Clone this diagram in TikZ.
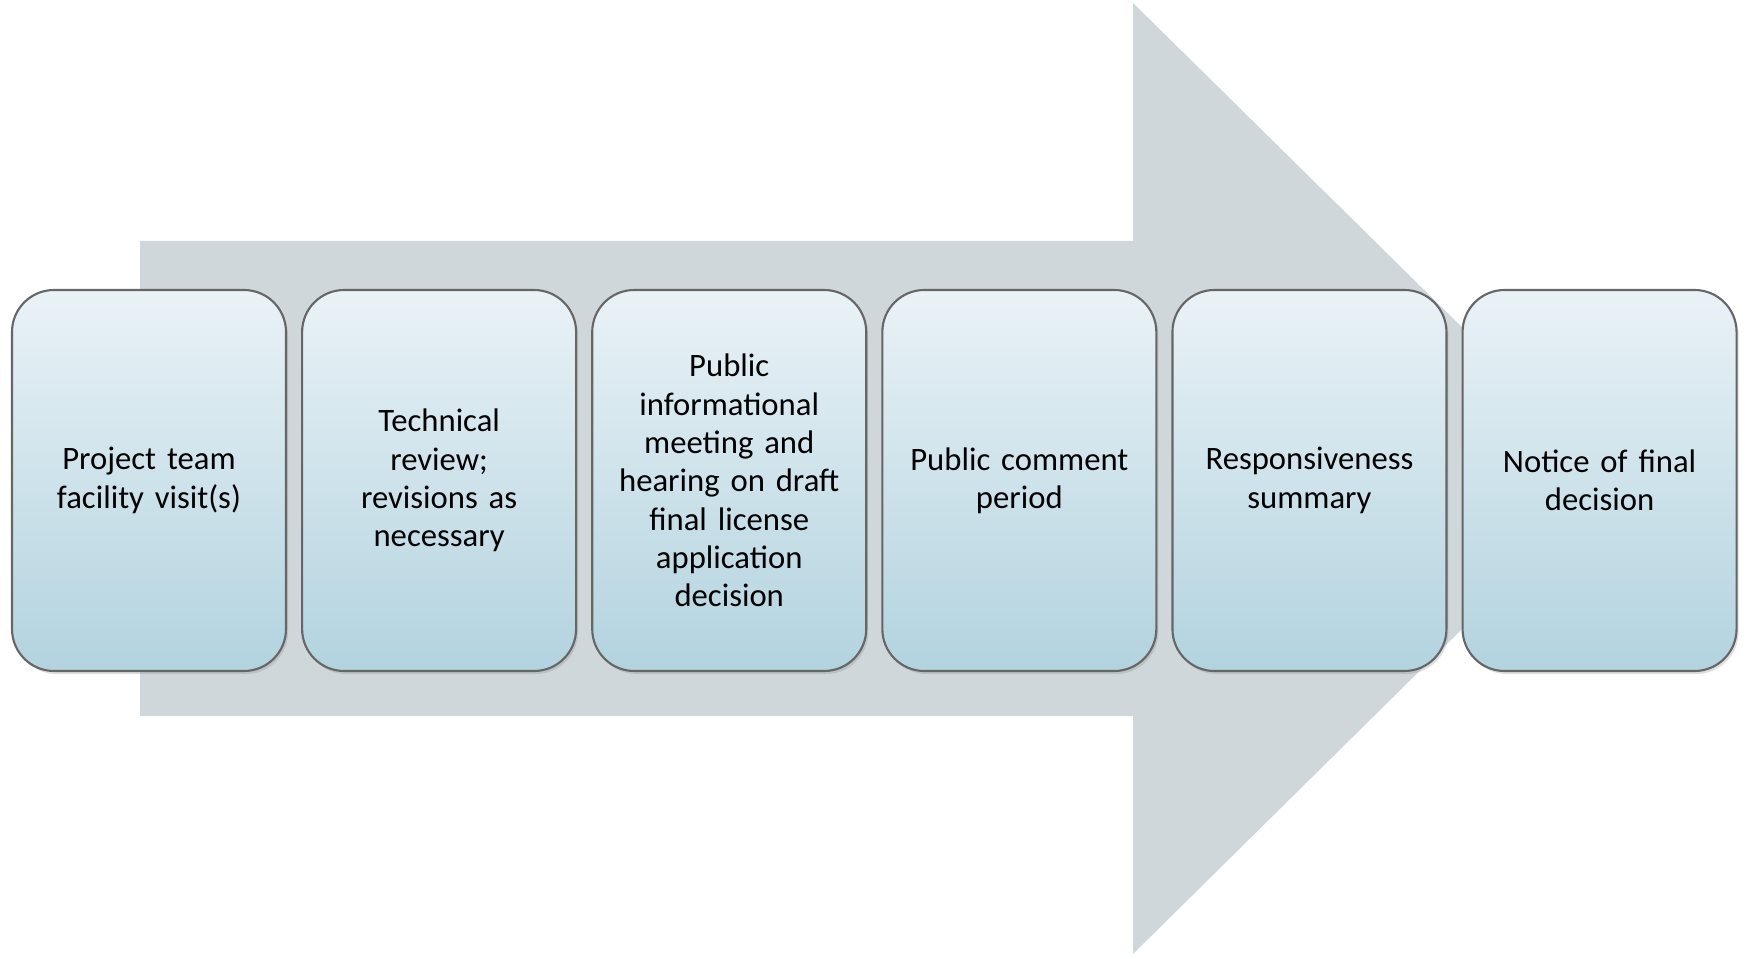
\documentclass[tikz,border=0pt]{standalone}
\usepackage{fontspec}
\setmainfont{Carlito}
\usepackage{xcolor}
\usepackage{tikz}
\usetikzlibrary{shadows}
\usetikzlibrary{positioning}
\definecolor{arrowgrey}{RGB}{207,215,219}
\definecolor{boxtop}{RGB}{234,242,247}
\definecolor{boxbot}{RGB}{178,211,223}
\tikzstyle{stage} = [rectangle, rounded corners=0.42cm, draw=black!60, line width=0.6pt,
    top color=boxtop, bottom color=boxbot,
    text width=2.5cm, align=center, minimum width=2.74cm, minimum height=3.81cm,
    inner sep=0pt, font=\fontsize{9.3}{10.9}\selectfont,
    drop shadow={shadow xshift=0.02cm, shadow yshift=-0.03cm, opacity=0.25}]

\begin{document}
\begin{tikzpicture}[node distance = 0.14cm, auto]
    \useasboundingbox (0,0) rectangle (17.47,9.58);
    % big arrow behind the stages
    \fill [arrowgrey] (1.40,7.17) -- (11.33,7.17) -- (11.33,9.55) -- (16.15,4.80)
        -- (11.33,0.04) -- (11.33,2.42) -- (1.40,2.42) -- cycle;
    % Place nodes
    \node [stage] at (1.49,4.775) (visit) {Project team\\ facility visit(s)};
    \node [stage, right=of visit] (review) {Technical\\ review;\\ revisions as\\ necessary};
    \node [stage, right=of review] (hearing) {Public\\ informational\\ meeting and\\ hearing on draft\\ final license\\ application\\ decision};
    \node [stage, right=of hearing] (comment) {Public comment\\ period};
    \node [stage, right=of comment] (summary) {Responsiveness\\ summary};
    \node [stage, right=of summary] (notice) {Notice of final\\ decision};
\end{tikzpicture}
\end{document}
